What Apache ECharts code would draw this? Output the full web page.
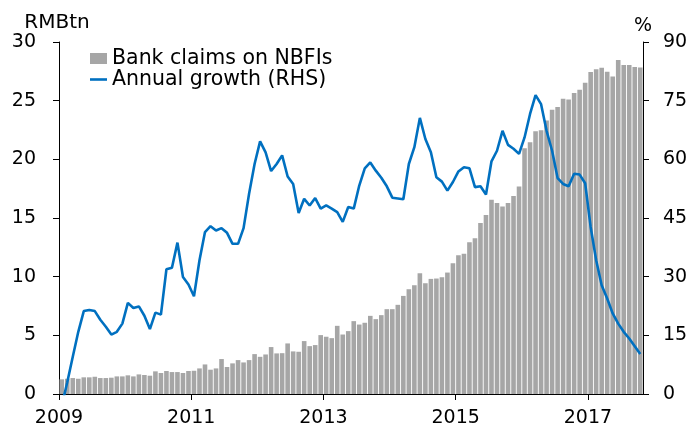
<!DOCTYPE html>
<html>
<head>
<meta charset="utf-8">
<script src="https://cdn.jsdelivr.net/npm/echarts@6/dist/echarts.min.js"></script>
<style>
html,body{margin:0;padding:0;background:#fff;}
#chart{width:693px;height:430px;}
</style>
</head>
<body>
<div id="chart"></div>
<script>
// Months from Jan 2009 to Oct 2017
var startYear = 2009;
var monthCount = 106;
var months = [];
for (var m = 0; m < monthCount; m++) {
  var y = startYear + Math.floor(m / 12);
  var mm = (m % 12) + 1;
  months.push(y + '-' + (mm < 10 ? '0' + mm : mm));
}

var tickLabels = ['2009', '2011', '2013', '2015', '2017'];
var leftTicks = [0, 5, 10, 15, 20, 25, 30];
var rightTicks = [0, 15, 30, 45, 60, 75, 90];

// Bank claims on NBFIs (RMB tn)
var claims = [
  1.25, 1.30, 1.36, 1.30, 1.42, 1.42, 1.47, 1.36, 1.36, 1.39, 1.50, 1.50,
  1.59, 1.50, 1.67, 1.62, 1.56, 1.93, 1.79, 1.96, 1.87, 1.87, 1.79, 1.96,
  1.98, 2.18, 2.52, 2.07, 2.18, 2.98, 2.30, 2.61, 2.89, 2.69, 2.89, 3.40,
  3.17, 3.37, 4.00, 3.46, 3.48, 4.31, 3.63, 3.60, 4.51, 4.08, 4.17, 5.02,
  4.88, 4.76, 5.81, 5.07, 5.36, 6.21, 5.92, 6.07, 6.66, 6.38, 6.72, 7.23,
  7.23, 7.60, 8.36, 8.93, 9.27, 10.29, 9.44, 9.81, 9.84, 9.95, 10.35, 11.15,
  11.82, 11.96, 12.93, 13.27, 14.57, 15.25, 16.55, 16.27, 15.99, 16.27, 16.87, 17.69,
  20.95, 21.46, 22.39, 22.48, 23.30, 24.23, 24.46, 25.17, 25.11, 25.65, 25.92, 26.53,
  27.44, 27.68, 27.81, 27.47, 27.07, 28.46, 28.03, 28.03, 27.86, 27.83
];

// Annual growth (%, RHS)
var growth = [
  -3.0, 3.0, 9.5, 15.9, 21.2, 21.5, 21.2, 19.0, 17.2, 15.2, 15.9, 18.0,
  23.3, 22.0, 22.4, 20.0, 16.6, 20.8, 20.3, 31.9, 32.3, 38.7, 29.9, 28.0,
  25.0, 34.2, 41.4, 42.9, 41.8, 42.4, 41.2, 38.4, 38.4, 42.4, 51.2, 58.8,
  64.6, 61.8, 57.0, 58.8, 61.0, 55.6, 53.7, 46.3, 49.9, 48.2, 50.1, 47.4,
  48.2, 47.4, 46.5, 44.0, 47.8, 47.4, 53.3, 57.7, 59.2, 57.1, 55.3, 53.1,
  50.2, 50.0, 49.8, 58.8, 63.1, 70.6, 65.2, 61.8, 55.4, 54.3, 52.0, 54.2,
  56.9, 58.0, 57.7, 52.9, 53.1, 51.0, 59.5, 62.2, 67.3, 63.7, 62.7, 61.4,
  65.6, 71.6, 76.4, 74.1, 67.3, 62.2, 55.2, 53.7, 53.1, 56.3, 56.1, 53.9,
  42.7, 34.2, 27.8, 24.4, 20.6, 18.0, 15.9, 14.2, 12.2, 10.2
];

var seriesNames = ['Bank claims on NBFIs', 'Annual growth (RHS)'];

// month index -> position on the continuous month axis (centre of month)
var barData = claims.map(function (v, i) { return [i + 0.5, v]; });
var lineData = growth.map(function (v, i) { return [i + 0.5, v]; });
var tickPos = tickLabels.map(function (t) { return (parseInt(t, 10) - startYear) * 12; });

var FONT = 'DejaVu Sans';
var legendText = { fontFamily: FONT, fontSize: 20.5, color: '#000' };
var chart = echarts.init(document.getElementById('chart'));
chart.setOption({
  animation: false,
  backgroundColor: '#ffffff',
  textStyle: { fontFamily: FONT, color: '#000' },
  grid: { left: 59, right: 50, top: 42, bottom: 36, containLabel: false },
  legend: [
    {
      orient: 'vertical',
      left: 90,
      top: 48,
      padding: 0,
      itemWidth: 17,
      itemHeight: 11,
      icon: 'rect',
      textStyle: legendText,
      data: [seriesNames[0]]
    },
    {
      orient: 'vertical',
      left: 90,
      top: 69,
      padding: 0,
      itemWidth: 17,
      itemHeight: 2.6,
      icon: 'rect',
      textStyle: legendText,
      data: [seriesNames[1]]
    }
  ],
  xAxis: {
    type: 'value',
    min: 0,
    max: monthCount,
    axisLine: { show: true, onZero: false, lineStyle: { color: '#000', width: 1 } },
    axisTick: { show: true, customValues: tickPos, length: 6, lineStyle: { color: '#000' } },
    axisLabel: {
      customValues: tickPos,
      margin: 15,
      fontFamily: FONT, fontSize: 19, color: '#000',
      formatter: function (v) { return tickLabels[Math.round(v / 12 / 2)] || ''; }
    },
    splitLine: { show: false }
  },
  yAxis: [
    {
      type: 'value',
      position: 'left',
      min: leftTicks[0],
      max: leftTicks[leftTicks.length - 1],
      interval: 5,
      name: 'RMBtn',
      nameLocation: 'end',
      nameGap: 1,
      nameTextStyle: { fontFamily: FONT, fontSize: 20, color: '#000', padding: [0, 4, 0, 0] },
      axisLine: { show: true, lineStyle: { color: '#000', width: 1 } },
      axisTick: { show: true, length: 6, lineStyle: { color: '#000' } },
      axisLabel: { margin: 23, fontFamily: FONT, fontSize: 19, color: '#000' },
      splitLine: { show: false }
    },
    {
      type: 'value',
      position: 'right',
      min: rightTicks[0],
      max: rightTicks[rightTicks.length - 1],
      interval: 15,
      name: '%',
      nameLocation: 'end',
      nameGap: 6,
      nameTextStyle: { fontFamily: FONT, fontSize: 19, color: '#000' },
      axisLine: { show: true, lineStyle: { color: '#000', width: 1 } },
      axisTick: { show: true, length: 6, lineStyle: { color: '#000' } },
      axisLabel: { margin: 20, fontFamily: FONT, fontSize: 19, color: '#000' },
      splitLine: { show: false }
    }
  ],
  series: [
    {
      name: seriesNames[0],
      type: 'bar',
      yAxisIndex: 0,
      data: barData,
      barWidth: 4.6,
      itemStyle: { color: '#a6a6a6' }
    },
    {
      name: seriesNames[1],
      type: 'line',
      yAxisIndex: 1,
      data: lineData,
      symbol: 'none',
      clip: true,
      lineStyle: { color: '#0070c0', width: 2.6 },
      itemStyle: { color: '#0070c0' },
      z: 5
    }
  ]
});
</script>
</body>
</html>
